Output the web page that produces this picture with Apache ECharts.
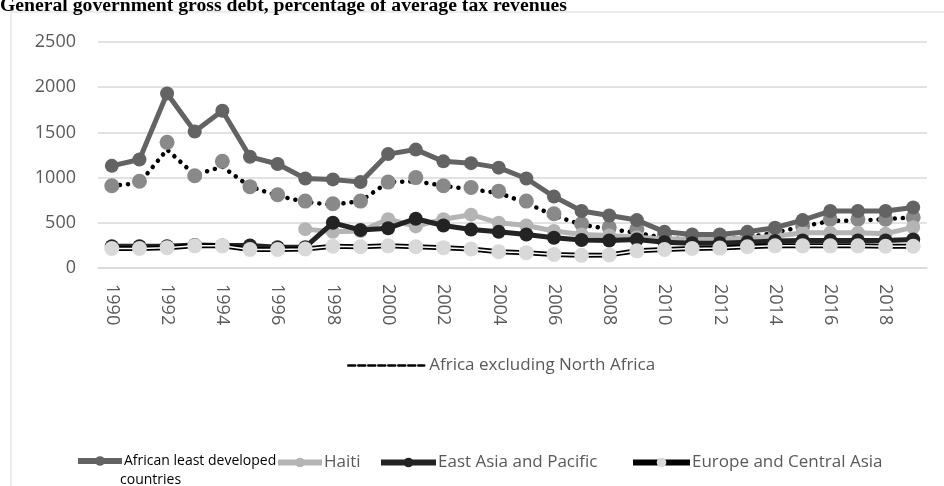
<!DOCTYPE html>
<html>
<head>
<meta charset="utf-8">
<script src="https://cdn.jsdelivr.net/npm/echarts@6/dist/echarts.min.js"></script>
<style>
  html, body { margin: 0; padding: 0; background: #fff; }
  #chart { width: 944px; height: 486px; }
</style>
</head>
<body>
<div id="chart"></div>
<script>
// ── Data ──────────────────────────────────────────────────────────────
const years = ["1990","1991","1992","1993","1994","1995","1996","1997","1998","1999",
  "2000","2001","2002","2003","2004","2005","2006","2007","2008","2009",
  "2010","2011","2012","2013","2014","2015","2016","2017","2018","2019"];

const africanLdc = [1130,1200,1930,1510,1740,1230,1150,990,980,950,
  1260,1310,1180,1160,1110,990,790,630,580,530,
  400,370,370,400,445,530,630,630,630,670];

const africaExNorth = [910,940,1310,1030,1120,900,800,730,700,740,
  950,960,910,870,830,720,580,480,430,390,
  330,315,320,340,390,460,520,525,540,560];

// grey markers that sit along the dotted line (no legend entry in the source)
const greyMarkers = [910,960,1390,1020,1180,900,810,740,710,740,
  950,1000,910,890,850,740,600,490,450,430,
  360,335,335,355,410,465,540,540,540,560];

const haiti = [null,null,null,null,null,null,null,430,400,410,
  540,460,540,590,500,470,410,370,360,340,
  320,320,320,330,350,390,390,390,380,450];

const eastAsia = [240,240,240,255,250,250,230,230,500,420,
  440,545,470,425,400,370,335,310,305,315,
  285,275,275,285,300,305,305,305,305,315];

const europe = [215,215,225,245,245,205,205,210,240,235,
  245,235,225,210,180,170,150,140,145,190,
  205,215,220,235,245,245,245,245,240,240];

const yTicks = { min: 0, max: 2500, interval: 500 };

// ── Chart ─────────────────────────────────────────────────────────────
const chart = echarts.init(document.getElementById("chart"), null, { renderer: "canvas" });

const labelFont = "'Open Sans', 'Liberation Sans', sans-serif";
const greyText = "#595959";

// one legend component per entry so each sits where Excel put it
function legendAt(item, left, top, extra = {}) {
  return {
    data: [item],
    left, top,
    itemWidth: 44,
    itemHeight: 12,
    padding: 0,
    lineStyle: { width: 6 },
    textStyle: { fontFamily: labelFont, fontSize: 17, color: greyText, padding: [0, 0, 0, -3] },
    selectedMode: false,
    ...extra,
  };
}

chart.setOption({
  animation: false,
  title: {
    text: "General government gross debt, percentage of average tax revenues",
    left: 0,
    top: -4,
    padding: 0,
    textStyle: { fontFamily: "'Liberation Serif', serif", fontWeight: "bold", fontSize: 19.7, color: "#000" },
  },
  graphic: [
    {
      type: "rect",
      shape: { x: 11, y: 12, width: 1000, height: 1000 },
      style: { fill: "none", stroke: "#d9d9d9", lineWidth: 1 },
      silent: true,
      z: -1,
    },
    {
      type: "text",
      left: 120,
      top: 473,
      style: { text: "countries", font: "14px 'Open Sans', sans-serif", fill: "#000" },
      silent: true,
    },
  ],
  legend: [
    legendAt(
      { name: "Africa excluding North Africa", itemStyle: { opacity: 0 } },
      347, 357,
      {
        itemWidth: 76,
        lineStyle: { type: [7, 3], width: 2.5, color: "#000" },
        textStyle: { fontFamily: labelFont, fontSize: 17, color: greyText, padding: [0, 0, 0, 0] },
      }
    ),
    legendAt(
      { name: "African least developed countries" },
      75, 454,
      {
        formatter: () => "African least developed",
        textStyle: { fontFamily: labelFont, fontSize: 14, color: "#000", padding: [0, 0, 0, -3] },
      }
    ),
    legendAt({ name: "Haiti" }, 275, 454),
    legendAt({ name: "East Asia and Pacific" }, 378, 454, { itemWidth: 55 }),
    legendAt(
      { name: "Europe and Central Asia" },
      630, 454, { itemWidth: 57, lineStyle: { color: "#000", width: 6 } }
    ),
  ],
  grid: { left: 98, right: 17, top: 42, bottom: 218, containLabel: false },
  xAxis: {
    type: "category",
    data: years,
    boundaryGap: true,
    axisLine: { show: true, lineStyle: { color: "#d9d9d9", width: 1.5 } },
    axisTick: { show: false },
    axisLabel: {
      interval: 1,
      rotate: -90,
      margin: 16,
      fontFamily: labelFont,
      fontSize: 18,
      color: greyText,
    },
  },
  yAxis: {
    type: "value",
    min: yTicks.min,
    max: yTicks.max,
    interval: yTicks.interval,
    axisLine: { show: false },
    axisTick: { show: false },
    splitLine: { lineStyle: { color: "#d9d9d9", width: 1.5 } },
    axisLabel: {
      margin: 22, fontFamily: labelFont, fontSize: 18, color: greyText,
      formatter: (v) => String(v),
    },
  },
  series: [
    {
      name: "Africa excluding North Africa",
      type: "line",
      data: africaExNorth,
      symbol: "none",
      itemStyle: { color: "#000" },
      lineStyle: { color: "#000", width: 4.5, type: [0.1, 8], cap: "round" },
      z: 1,
    },
    {
      name: "grey markers",
      type: "line",
      data: greyMarkers,
      symbol: "circle",
      symbolSize: 15,
      itemStyle: { color: "#898989" },
      lineStyle: { width: 0, opacity: 0 },
      z: 2,
    },
    {
      name: "Haiti",
      type: "line",
      data: haiti,
      symbol: "circle",
      symbolSize: 14,
      itemStyle: { color: "#b4b4b4" },
      lineStyle: { color: "#b4b4b4", width: 5 },
      z: 3,
    },
    {
      name: "African least developed countries",
      type: "line",
      data: africanLdc,
      symbol: "circle",
      symbolSize: 14,
      itemStyle: { color: "#636363" },
      lineStyle: { color: "#636363", width: 5 },
      z: 4,
    },
    {
      name: "East Asia and Pacific",
      type: "line",
      data: eastAsia,
      symbol: "circle",
      symbolSize: 14,
      itemStyle: { color: "#232323" },
      lineStyle: { color: "#232323", width: 5 },
      z: 5,
    },
    {
      name: "europe outline",
      type: "line",
      data: europe,
      symbol: "none",
      lineStyle: { color: "#000", width: 5 },
      z: 6,
    },
    {
      name: "Europe and Central Asia",
      type: "line",
      data: europe,
      symbol: "circle",
      symbolSize: 15,
      itemStyle: { color: "#d9d9d9" },
      lineStyle: { color: "#fff", width: 1.5 },
      z: 7,
    },
  ],
});
</script>
</body>
</html>
